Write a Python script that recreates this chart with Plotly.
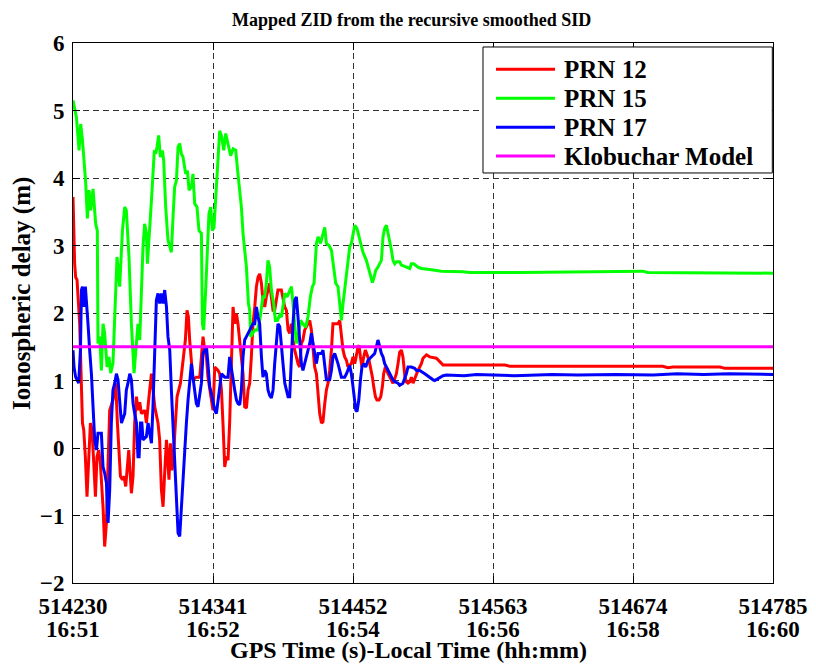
import plotly.graph_objects as go

T0 = 514230  # GPS start time (s)

# elapsed seconds from T0, ionospheric delay (m)
PRN12 = [(0.0,3.72),(0.6,3.18),(1.3,2.73),(2.1,2.53),(3.2,2.49),(5.3,1.84),(6.7,1.10),(7.5,0.37),(8.5,0.27),(9.8,-0.13),(11.1,-0.72),(12.4,-0.13),(13.8,0.37),(15.1,0.27),(16.4,-0.28),(17.8,-0.72),(19.0,-0.13),(20.4,-0.03),(21.7,-0.23),(23.0,-0.62),(23.8,-0.87),(25.1,-1.46),(26.5,-1.11),(27.8,-0.23),(29.1,0.56),(31.7,0.71),(33.9,0.96),(35.2,0.37),(36.5,-0.13),(37.6,-0.42),(39.2,-0.47),(40.4,-0.42),(41.8,-0.57),(44.2,-0.03),(46.3,-0.67),(47.6,-0.42),(48.9,0.37),(50.3,0.76),(51.5,0.56),(52.9,0.68),(54.2,0.51),(56.9,0.56),(58.2,0.37),(59.5,0.66),(60.8,0.86),(62.2,1.10),(64.8,0.61),(67.4,0.37),(68.7,0.12),(70.1,-0.62),(71.4,-0.87),(72.7,-0.37),(74.1,0.12),(76.1,-0.47),(77.2,0.07),(78.5,-0.33),(79.8,-0.08),(81.2,0.37),(82.5,0.76),(85.2,0.96),(86.4,1.15),(87.8,1.35),(89.1,1.60),(90.4,2.04),(91.5,1.94),(92.5,1.60),(93.9,1.20),(95.1,1.01),(97.8,1.05),(100.5,1.05),(101.8,1.35),(103.1,1.65),(104.4,1.45),(105.8,1.35),(107.0,1.05),(109.7,0.73),(111.0,0.56),(112.4,1.20),(115.0,1.15),(116.3,1.10),(117.7,0.86),(118.9,0.37),(120.3,-0.28),(121.6,-0.13),(122.9,-0.18),(124.2,0.37),(125.6,1.10),(126.9,2.09),(128.2,1.84),(129.6,1.99),(130.8,1.84),(132.2,1.60),(133.5,1.35),(134.8,1.10),(136.1,0.61),(137.5,0.59),(138.8,0.86),(140.1,0.96),(141.4,1.35),(142.7,1.84),(144.1,2.09),(145.4,2.39),(146.7,2.53),(148.0,2.58),(149.4,2.44),(150.6,2.19),(152.0,2.09),(153.3,2.24),(155.9,2.44),(158.6,2.04),(159.9,2.04),(161.3,2.24),(162.5,2.34),(165.2,2.34),(166.5,2.24),(167.9,2.09),(169.2,2.04),(170.5,1.75),(171.8,1.70),(173.2,1.84),(174.4,1.60),(175.8,1.45),(178.4,1.25),(179.7,1.20),(181.1,1.55),(182.3,1.60),(183.7,1.75),(186.3,1.84),(187.7,1.89),(189.0,1.75),(190.3,1.40),(191.6,1.20),(193.0,1.10),(194.3,0.86),(195.6,0.51),(197.0,0.37),(198.2,0.39),(199.6,0.66),(200.9,0.86),(202.2,0.96),(203.5,1.15),(204.9,1.45),(206.1,1.84),(207.5,1.84),(210.1,1.84),(211.5,1.89),(214.1,1.45),(215.4,1.35),(216.8,1.30),(218.0,1.20),(220.7,1.25),(222.0,1.35),(223.4,1.25),(226.0,1.50),(226.8,1.52),(227.9,1.35),(229.1,1.20),(230.5,1.35),(231.8,1.45),(234.7,1.30),(236.0,1.20),(237.4,1.05),(238.4,0.91),(239.8,0.76),(241.0,0.71),(242.6,0.71),(244.0,0.76),(245.3,0.91),(246.3,1.10),(247.7,1.20),(249.8,1.10),(251.1,1.05),(252.5,1.01),(253.7,0.96),(255.1,1.03),(256.4,1.10),(257.7,1.25),(259.0,1.42),(260.4,1.45),(261.6,1.35),(262.4,1.20),(263.2,1.05),(264.3,0.98),(265.6,0.96),(267.0,0.98),(268.3,1.05),(269.6,0.96),(272.3,1.10),(273.5,1.15),(274.9,1.20),(276.2,1.25),(277.5,1.33),(278.9,1.35),(280.2,1.38),(282.8,1.35),(288.1,1.33),(290.8,1.28),(293.4,1.23),(342.5,1.23),(346.5,1.21),(467.6,1.21),(471.6,1.19),(475.6,1.20),(501.0,1.20),(507.4,1.19),(513.0,1.20),(516.8,1.18),(555.0,1.18)]

PRN15 = [(0.0,5.15),(2.7,4.90),(4.8,4.41),(6.1,4.80),(7.5,4.56),(10.1,3.92),(11.4,3.40),(12.7,3.82),(14.0,3.52),(15.9,3.84),(18.0,3.32),(19.3,3.22),(19.8,1.55),(21.2,1.65),(22.5,1.15),(23.8,1.84),(25.1,1.70),(27.0,1.20),(28.5,1.35),(29.9,1.11),(31.7,1.26),(33.6,2.34),(34.9,2.83),(37.0,2.39),(39.2,3.22),(41.0,3.57),(42.3,3.52),(44.4,2.83),(46.3,1.84),(48.4,1.11),(49.7,1.45),(51.5,1.84),(52.9,1.60),(54.2,2.34),(55.5,2.98),(56.8,3.32),(58.2,3.18),(59.0,2.73),(60.3,3.08),(62.2,3.67),(64.5,4.41),(65.6,4.36),(66.6,4.46),(67.9,4.63),(69.3,4.31),(70.9,4.41),(71.9,4.26),(73.5,3.57),(75.3,3.08),(76.7,2.98),(78.0,2.90),(79.3,3.42),(80.6,3.87),(82.0,3.96),(83.3,4.46),(84.6,4.51),(85.9,4.36),(87.2,4.31),(89.4,4.06),(90.7,4.11),(92.0,3.82),(93.9,3.87),(95.1,4.06),(96.5,3.62),(98.3,3.57),(99.9,3.22),(101.8,3.18),(102.6,1.84),(103.6,1.75),(105.2,2.34),(106.6,3.08),(107.8,3.47),(109.2,3.57),(110.5,3.22),(111.8,3.27),(113.1,3.67),(115.0,4.21),(116.3,4.70),(117.9,4.61),(119.5,4.41),(121.1,4.66),(122.9,4.51),(125.0,4.33),(126.9,4.43),(129.0,4.41),(130.8,4.06),(133.5,3.57),(134.8,3.18),(136.1,2.98),(137.5,2.68),(139.1,2.14),(140.1,2.04),(140.9,1.65),(142.2,1.70),(144.1,1.75),(146.4,1.75),(148.0,1.89),(150.6,2.24),(152.0,2.24),(153.3,2.44),(154.6,2.78),(155.9,2.68),(157.3,2.34),(159.1,2.14),(160.5,1.89),(162.1,1.89),(163.9,1.97),(165.3,1.94),(166.5,2.14),(167.9,2.29),(169.7,2.24),(171.8,2.34),(173.2,2.39),(174.4,2.14),(175.8,1.84),(177.1,1.55),(178.4,1.65),(180.5,1.89),(182.3,1.84),(184.5,1.79),(186.3,1.94),(188.2,2.24),(189.8,2.39),(191.1,2.44),(193.0,3.03),(194.3,3.13),(196.2,3.03),(197.7,3.13),(199.6,3.27),(200.9,3.03),(203.0,3.00),(204.9,2.93),(206.7,2.68),(208.3,2.44),(210.1,2.39),(211.5,2.14),(212.8,1.89),(214.1,2.14),(215.4,2.34),(216.8,2.53),(218.0,2.78),(219.4,2.98),(220.7,3.03),(222.0,3.18),(223.4,3.30),(225.2,3.25),(226.8,3.13),(228.7,3.03),(229.9,2.90),(232.6,2.78),(233.9,2.68),(235.8,2.58),(237.4,2.45),(238.7,2.53),(240.0,2.63),(241.8,2.68),(244.5,2.78),(245.8,3.13),(247.1,3.25),(248.5,3.30),(249.8,3.18),(251.1,3.08),(252.5,2.93),(253.7,2.78),(255.1,2.73),(256.4,2.76),(259.0,2.76),(260.4,2.71),(263.8,2.68),(267.0,2.66),(268.3,2.73),(270.1,2.73),(273.5,2.68),(276.2,2.66),(284.2,2.64),(292.1,2.62),(309.2,2.61),(314.5,2.60),(354.2,2.60),(449.3,2.61),(451.8,2.62),(455.6,2.60),(555.0,2.59)]

PRN17 = [(0.0,1.45),(0.8,1.20),(2.1,1.05),(4.5,0.96),(5.9,1.45),(6.7,2.34),(7.5,2.39),(8.5,2.09),(9.8,2.39),(11.1,2.09),(11.9,1.84),(13.2,1.45),(14.6,1.10),(15.9,0.61),(17.2,0.12),(18.6,-0.03),(19.8,0.22),(22.5,0.22),(23.8,-0.28),(25.1,-0.37),(26.5,-0.52),(27.8,-1.11),(29.1,-0.62),(30.4,0.37),(31.7,0.86),(33.1,0.96),(34.4,1.10),(35.7,1.01),(37.0,0.66),(38.4,0.37),(41.0,0.51),(42.3,0.86),(43.6,0.96),(45.0,1.10),(46.3,1.01),(47.6,0.66),(48.9,0.51),(50.3,0.37),(51.5,-0.13),(52.4,-0.13),(53.5,0.37),(54.6,0.37),(55.5,0.12),(58.2,0.17),(59.5,0.37),(62.2,0.07),(63.4,0.61),(64.8,1.35),(66.1,2.19),(67.4,2.29),(68.7,2.14),(70.1,2.29),(71.4,2.14),(72.7,2.34),(74.1,2.09),(75.3,1.65),(76.7,1.45),(78.0,0.86),(79.3,0.37),(80.6,-0.13),(82.0,-0.62),(83.3,-1.26),(84.6,-1.31),(85.9,-0.87),(87.2,-0.62),(88.6,-0.13),(89.9,0.37),(91.2,0.71),(92.5,1.01),(93.9,1.25),(95.1,1.05),(96.5,0.86),(97.8,0.66),(99.1,0.61),(100.5,0.76),(101.8,0.96),(103.1,1.40),(104.4,1.45),(105.8,1.50),(107.0,1.25),(108.4,0.91),(109.7,0.81),(111.0,0.71),(112.4,0.56),(113.7,0.51),(116.3,0.86),(117.7,1.10),(120.3,1.05),(122.9,1.05),(124.2,1.35),(125.6,1.15),(126.9,1.01),(128.2,0.86),(129.6,0.71),(130.8,0.66),(132.2,0.64),(133.5,0.86),(134.8,1.35),(136.1,1.60),(137.5,1.65),(140.1,1.75),(141.4,1.79),(142.7,1.84),(144.1,1.84),(145.4,2.09),(146.7,1.94),(148.0,1.84),(149.4,1.35),(150.6,1.05),(152.0,1.15),(153.3,1.10),(154.6,0.86),(155.9,0.78),(157.3,0.74),(158.6,0.86),(159.9,1.25),(161.3,1.60),(162.5,1.84),(163.9,1.80),(165.3,1.55),(166.5,1.25),(167.9,0.96),(169.2,0.86),(170.5,0.76),(171.8,0.76),(173.2,1.35),(174.4,1.84),(175.8,2.19),(177.1,2.24),(178.4,1.94),(179.7,1.55),(181.1,1.25),(182.3,1.15),(183.7,1.25),(185.0,1.35),(187.7,1.55),(189.0,1.70),(190.3,1.55),(191.6,1.35),(193.0,1.25),(194.3,1.40),(197.0,1.40),(198.2,1.45),(199.6,1.25),(200.9,1.01),(203.5,1.01),(204.9,1.15),(206.1,1.35),(207.5,1.40),(210.1,1.25),(211.5,1.15),(212.8,1.05),(215.4,1.05),(216.8,1.10),(219.4,1.22),(220.7,1.10),(222.0,0.91),(223.4,0.71),(224.2,0.56),(225.2,0.54),(226.6,0.71),(227.9,1.01),(229.1,1.20),(230.5,1.25),(232.1,1.20),(233.9,1.30),(236.6,1.35),(239.2,1.40),(240.5,1.50),(241.8,1.60),(243.2,1.50),(244.5,1.40),(245.8,1.35),(247.1,1.25),(248.5,1.20),(249.8,1.15),(251.1,1.10),(252.5,1.05),(253.7,1.01),(255.1,0.98),(257.7,0.96),(259.0,0.93),(261.6,0.96),(264.3,1.10),(265.6,1.20),(268.3,1.20),(270.9,1.18),(272.3,1.15),(274.9,1.15),(278.9,1.10),(280.2,1.08),(285.5,1.01),(286.8,1.00),(289.4,1.03),(293.4,1.07),(296.1,1.08),(310.0,1.07),(320.0,1.09),(330.0,1.08),(350.0,1.07),(380.0,1.09),(400.0,1.08),(430.0,1.09),(460.0,1.08),(478.9,1.10),(500.0,1.09),(520.0,1.10),(540.0,1.09),(555.0,1.09)]

KLOBUCHAR_T = [0.0, 555.0]
KLOBUCHAR = [1.5, 1.5]

SERIES_NAMES = ["PRN 12", "PRN 15", "PRN 17", "Klobuchar Model"]
SERIES_COLORS = ["#ff0000", "#00ff00", "#0000ff", "#ff00ff"]

TICK_VALS = [514230, 514341, 514452, 514563, 514674, 514785]
GPS_LABELS = ["514230", "514341", "514452", "514563", "514674", "514785"]
LOCAL_LABELS = ["16:51", "16:52", "16:54", "16:56", "16:58", "16:60"]
Y_TICKS = [-2, -1, 0, 1, 2, 3, 4, 5, 6]

FONT = "Liberation Serif"

fig = go.Figure()
series = [
    list(PRN12),
    list(PRN15),
    list(PRN17),
    list(zip(KLOBUCHAR_T, KLOBUCHAR)),
]
for name, color, pts in zip(SERIES_NAMES, SERIES_COLORS, series):
    fig.add_trace(go.Scatter(
        x=[T0 + p[0] for p in pts], y=[p[1] for p in pts],
        mode="lines", name=name, line=dict(color=color, width=3),
        showlegend=False, hoverinfo="skip"))

tickfont = dict(family=FONT, size=23, color="black", weight="bold")
localfont = dict(family=FONT, size=23, color="black", weight="bold")
axis_common = dict(
    showline=True, linecolor="black", linewidth=1, mirror="ticks",
    ticks="inside", ticklen=7, tickcolor="black", tickwidth=1,
    showgrid=True, gridcolor="#333333", gridwidth=1, griddash="6px,4px",
    zeroline=False, tickfont=tickfont, automargin=False,
)
fig.update_xaxes(range=[TICK_VALS[0], TICK_VALS[-1]], tickvals=TICK_VALS,
                 ticktext=GPS_LABELS, ticklabelstandoff=2, **axis_common)
fig.update_yaxes(range=[Y_TICKS[0], Y_TICKS[-1]], tickvals=Y_TICKS,
                 ticklabelstandoff=3, **axis_common)

annotations = []
for tv, lab in zip(TICK_VALS, LOCAL_LABELS):
    annotations.append(dict(x=tv, xref="x", y=-0.0870, yref="paper", text=lab,
                            showarrow=False, xanchor="center", yanchor="middle",
                            font=localfont))
annotations.append(dict(x=0.479, xref="paper", y=-0.124, yref="paper",
                        text="GPS Time (s)-Local Time (hh:mm)", showarrow=False,
                        xanchor="center", yanchor="middle",
                        font=dict(family=FONT, size=24, color="black", weight="bold")))
annotations.append(dict(x=-0.0729, xref="paper", y=0.537, yref="paper",
                        text="Ionospheric delay (m)", textangle=-90, showarrow=False,
                        xanchor="center", yanchor="middle",
                        font=dict(family=FONT, size=25, color="black", weight="bold")))
annotations.append(dict(x=0.483, xref="paper", y=1.0426, yref="paper",
                        text="Mapped ZID from the recursive smoothed SID", showarrow=False,
                        xanchor="center", yanchor="middle",
                        font=dict(family=FONT, size=18, color="black", weight="bold")))

# legend box drawn manually (MATLAB style)
shapes = [dict(type="rect", xref="paper", yref="paper", x0=0.5857, x1=0.999,
               y0=0.7593, y1=0.9926, line=dict(color="black", width=1),
               fillcolor="white", layer="above")]
rows = [0.9513, 0.8976, 0.8439, 0.7907]
for name, color, ry in zip(SERIES_NAMES, SERIES_COLORS, rows):
    shapes.append(dict(type="line", xref="paper", yref="paper", x0=0.6043, x1=0.6886,
                       y0=ry, y1=ry, line=dict(color=color, width=3), layer="above"))
    annotations.append(dict(x=0.6986, xref="paper", y=ry, yref="paper", text=name,
                            showarrow=False, xanchor="left", yanchor="middle",
                            font=dict(family=FONT, size=25, color="black", weight="bold")))

fig.update_layout(
    width=816, height=664, margin=dict(l=73, r=43, t=43, b=81, autoexpand=False),
    plot_bgcolor="white", paper_bgcolor="white",
    annotations=annotations, shapes=shapes, showlegend=False,
)
fig.write_html("out.html")
